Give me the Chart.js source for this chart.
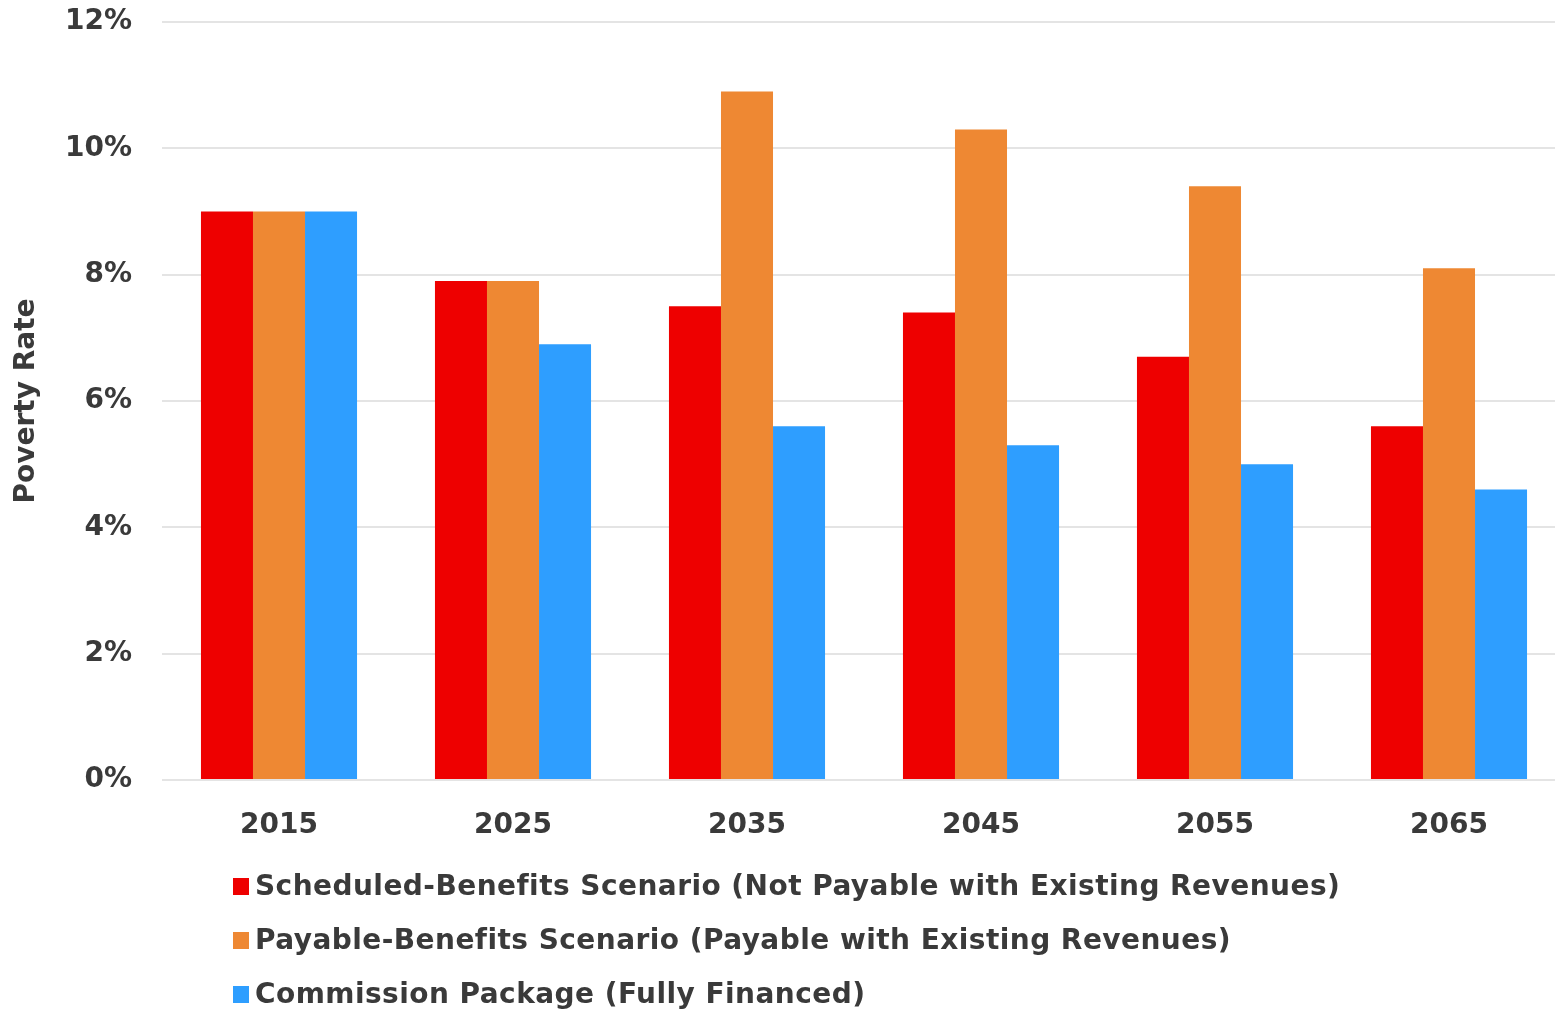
<!DOCTYPE html>
<html>
<head>
<meta charset="utf-8">
<script src="https://cdn.jsdelivr.net/npm/chart.js@4"></script>
<style>
  html, body { margin: 0; padding: 0; background: #fff; overflow: hidden; }
  #wrap { position: relative; width: 1555px; height: 1012px; overflow: hidden; }
  #chartBox { position: absolute; left: 0; top: 0; width: 1566px; height: 1012px; }
  #legend { position: absolute; left: 233px; top: 868px; font-family: "DejaVu Sans", sans-serif; font-weight: bold; font-size: 28px; color: #3a3a3a; letter-spacing: 0.45px; }
  .item { height: 54px; line-height: 36px; white-space: nowrap; display: flex; align-items: flex-start; }
  .box { display: inline-block; width: 16px; height: 17px; margin-top: 10px; margin-right: 6px; }
</style>
</head>
<body>
<div id="wrap">
  <div id="chartBox"><canvas id="povertyChart"></canvas></div>
  <div id="legend"></div>
</div>
<script>
const years = ['2015', '2025', '2035', '2045', '2055', '2065'];
const scheduled = [9.0, 7.9, 7.5, 7.4, 6.7, 5.6];
const payable = [9.0, 7.9, 10.9, 10.3, 9.4, 8.1];
const commission = [9.0, 6.9, 5.6, 5.3, 5.0, 4.6];
const seriesNames = [
    'Scheduled-Benefits Scenario (Not Payable with Existing Revenues)',
    'Payable-Benefits Scenario (Payable with Existing Revenues)',
    'Commission Package (Fully Financed)'
];
const colors = ['#ee0000', '#ee8833', '#2e9eff'];

const textColor = '#3a3a3a';
const font = { family: '"DejaVu Sans", sans-serif', weight: 'bold', size: 28 };

const ctx = document.getElementById('povertyChart').getContext('2d');

const povertyChart = new Chart(ctx, {
    type: 'bar',
    data: {
        labels: years,
        datasets: [scheduled, payable, commission].map((vals, i) => ({
            label: seriesNames[i],
            data: vals,
            backgroundColor: colors[i],
            borderWidth: 0,
            categoryPercentage: 0.667,
            barPercentage: 1.0
        }))
    },
    options: {
        responsive: true,
        maintainAspectRatio: false,
        animation: false,
        layout: { padding: { top: 22, right: 0, bottom: 172, left: 0 } },
        plugins: {
            legend: { display: false },
            tooltip: { enabled: false }
        },
        scales: {
            y: {
                min: 0,
                max: 12,
                afterFit: (scale) => {
                    scale.width = 162;
                    // tick padding would otherwise push the plot down
                    scale.paddingTop = 0;
                    scale.paddingBottom = 0;
                },
                ticks: {
                    stepSize: 2,
                    padding: 30,
                    color: textColor,
                    font: font,
                    callback: (v) => v + '%'
                },
                grid: { color: '#e4e4e4', lineWidth: 2, drawTicks: false },
                border: { display: false },
                title: {
                    display: true,
                    text: 'Poverty Rate',
                    color: textColor,
                    font: font,
                    padding: { top: 10, bottom: 0 }
                }
            },
            x: {
                afterFit: (scale) => { scale.height = 60; },
                ticks: { color: textColor, font: font, padding: 29 },
                grid: { display: false, drawTicks: false },
                border: { display: false }
            }
        }
    }
});

// legend drawn as plain HTML rows, left aligned like the original
const legendEl = document.getElementById('legend');
seriesNames.forEach((name, i) => {
    const row = document.createElement('div');
    row.className = 'item';
    row.innerHTML = '<span class="box" style="background:' + colors[i] + '"></span><span>' + name + '</span>';
    legendEl.appendChild(row);
});
</script>
</body>
</html>
